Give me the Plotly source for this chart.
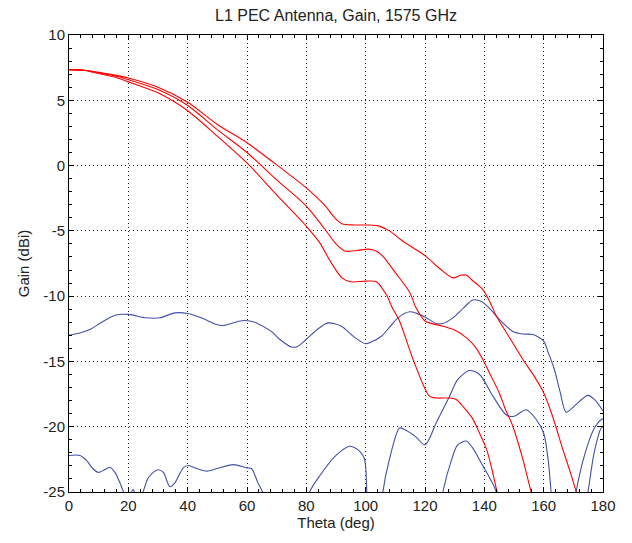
import plotly.graph_objects as go

# --- red curves (three cuts) ---
red_a_theta = [0, 5, 10, 15, 20, 30, 40, 50, 60, 70, 80, 86, 90, 92, 96, 100, 104, 108, 112, 116,
               120, 125, 129.4, 132, 134, 136, 139.5, 142, 144, 148, 153, 157, 160, 163, 166.4, 169, 171, 173]
red_a_gain = [7.35, 7.3, 7.15, 6.95, 6.71, 6.0, 4.85, 3.15, 1.75, 0.05, -1.71, -3.0, -4.1, -4.45, -4.55,
              -4.55, -4.6, -5.0, -5.7, -6.3, -6.9, -7.9, -8.6, -8.4, -8.4, -8.8, -9.5, -10.5, -11.5,
              -13.0, -14.85, -16.2, -17.4, -19.2, -21.7, -23.5, -25.0, -26.5]

red_b_theta = [0, 5, 10, 15, 20, 30, 40, 50, 60, 70, 80, 86, 90, 93, 97, 101, 104, 106, 110, 114.8,
               117, 120, 126, 130, 134, 137, 139.5, 142, 145, 147, 149.6, 153, 155.8, 158]
red_b_gain = [7.35, 7.3, 7.1, 6.9, 6.58, 5.82, 4.6, 2.75, 1.0, -1.1, -3.1, -4.8, -6.0, -6.55, -6.5,
              -6.4, -6.6, -7.0, -8.2, -9.7, -10.9, -11.9, -12.3, -12.6, -13.2, -13.9, -14.85, -16.0,
              -17.4, -18.6, -19.96, -22.5, -25.0, -26.5]

red_c_theta = [0, 5, 10, 15, 20, 30, 40, 50, 60, 70, 80, 84.5, 88, 92, 95, 100, 103.6, 107, 109, 111.4,
               116, 121.5, 124, 128, 130.4, 133, 136.1, 138, 140.7, 142.5, 144.3, 146]
red_c_gain = [7.35, 7.3, 7.05, 6.8, 6.41, 5.57, 4.2, 2.25, 0.2, -2.25, -4.65, -5.9, -7.3, -8.6, -8.9,
              -8.85, -8.9, -9.9, -10.9, -11.9, -14.85, -17.66, -17.8, -17.8, -17.9, -18.5, -19.4,
              -20.3, -21.7, -23.2, -25.0, -26.5]

# --- blue curves ---
blue_d_theta = [0, 4, 7, 11, 15.5, 20, 26, 30.6, 35.7, 40, 45, 49.7, 52, 56, 58.7, 61, 63.2, 68.2, 71,
                75, 77, 80, 84, 87.3, 91.8, 96, 100, 102, 105.3, 108, 110.9, 114.8, 117, 120, 123.8,
                126, 129.4, 133, 136.1, 138.9, 142, 145.1, 149.6, 153, 156.4, 160, 161.5, 163.6,
                165.5, 167.6, 170.4, 174.9, 177.5, 180]
blue_d_gain = [-13.0, -12.8, -12.56, -12.0, -11.46, -11.4, -11.66, -11.66, -11.28, -11.33, -11.7,
               -12.17, -12.25, -12.0, -11.87, -11.9, -12.05, -12.7, -13.3, -13.9, -13.85, -13.3,
               -12.5, -12.05, -12.3, -13.1, -13.65, -13.5, -13.07, -12.4, -11.66, -11.2, -11.3,
               -11.6, -12.1, -12.1, -11.66, -10.9, -10.3, -10.4, -11.0, -11.8, -12.7, -12.9,
               -12.94, -13.45, -14.3, -15.6, -17.3, -18.9, -18.4, -17.6, -18.0, -18.8]

blue_e_theta = [0, 3.7, 6, 8, 9.9, 12, 13.8, 15.5, 17, 18.9, 20.3, 21.6, 22.8, 24.5, 26.5, 28.4, 30,
                31.8, 34, 35.7, 38.5, 40.2, 43, 46.4, 50, 55.3, 60, 61.5, 63.7, 65.4, 68, 73, 78,
                81.1, 85, 90, 94.6, 97, 99.5, 100.4, 101.5]
blue_e_gain = [-22.2, -22.2, -22.6, -23.2, -23.5, -23.3, -23.1, -23.5, -24.2, -25.2, -25.4, -24.8,
               -25.4, -25.2, -24.0, -23.5, -23.3, -23.5, -24.6, -24.3, -23.15, -22.97, -23.2, -23.4,
               -23.2, -22.9, -23.15, -23.2, -24.3, -25.1, -28.0, -31.0, -28.0, -25.0, -23.6, -22.2,
               -21.5, -21.7, -22.4, -25.0, -29.0]

blue_f_theta = [103, 104.5, 105.8, 108, 111.4, 113, 117, 120, 123.8, 128.3, 131, 135, 138.4, 142.9,
                147.4, 150, 154.1, 157.5, 160, 161.5, 162.5, 164, 167, 170.9, 174, 177.1, 179.4, 180]
blue_f_gain = [-31.0, -29.0, -25.0, -22.5, -20.1, -20.2, -20.8, -21.4, -19.7, -17.66, -16.4, -15.7,
               -16.0, -17.66, -19.1, -19.2, -18.7, -19.45, -20.5, -22.5, -25.0, -29.0, -31.0, -25.0,
               -22.0, -20.1, -19.45, -19.4]

blue_g_theta = [122, 126, 129, 131, 133.9, 136, 139.5, 142, 144, 146, 160, 172, 174.9, 177, 179.4, 180]
blue_g_gain = [-31.0, -25.0, -22.5, -21.4, -21.1, -21.6, -23.0, -24.0, -25.0, -28.0, -33.0, -28.0,
               -25.0, -22.0, -20.1, -20.0]

# tick labels (plain hyphen minus, as in the original)
y_tick_vals = [-25, -20, -15, -10, -5, 0, 5, 10]
y_tick_text = ["-25", "-20", "-15", "-10", "-5", "0", "5", "10"]

RED = "#ff0000"
BLUE = "#4350a8"
FONT = "Liberation Sans, Arial"

fig = go.Figure()
for th, g, c in [
    (blue_d_theta, blue_d_gain, BLUE),
    (blue_e_theta, blue_e_gain, BLUE),
    (blue_f_theta, blue_f_gain, BLUE),
    (blue_g_theta, blue_g_gain, BLUE),
    (red_a_theta, red_a_gain, RED),
    (red_b_theta, red_b_gain, RED),
    (red_c_theta, red_c_gain, RED),
]:
    fig.add_trace(go.Scatter(
        x=th, y=g, mode="lines",
        line=dict(color=c, width=1.1, shape="spline", smoothing=0.8),
        showlegend=False,
    ))

axis_common = dict(
    showline=True, linecolor="black", linewidth=1, mirror="ticks",
    ticks="inside", ticklen=5, tickcolor="black",
    showgrid=True, gridcolor="#222222", griddash="1px,3px", gridwidth=1,
    zeroline=False, automargin=False,
    tickfont=dict(family=FONT, size=15, color="#222"),
)

fig.update_xaxes(
    range=[0, 180], dtick=20, tick0=0,
    minor=dict(dtick=4, ticks="inside", ticklen=3, tickcolor="black", showgrid=False),
    title=dict(text="Theta (deg)", font=dict(family=FONT, size=15, color="#222"), standoff=4),
    **axis_common,
)
fig.update_yaxes(
    range=[-25, 10], tickmode="array", tickvals=y_tick_vals, ticktext=y_tick_text,
    minor=dict(dtick=1, ticks="inside", ticklen=3, tickcolor="black", showgrid=False),
    title=dict(text="Gain (dBi)", font=dict(family=FONT, size=15, color="#222"), standoff=10),
    **axis_common,
)

# page has an 8px body margin, so the figure is drawn 8px smaller
fig.update_layout(
    width=624, height=535,
    margin=dict(l=61, r=29, t=27, b=51),
    paper_bgcolor="white", plot_bgcolor="white",
    title=dict(text="L1 PEC Antenna, Gain, 1575 GHz", x=0.5, xref="paper",
               y=1 - 7 / 535, yref="container", yanchor="middle",
               font=dict(family=FONT, size=16, color="#222")),
)

fig.write_html("out.html")
